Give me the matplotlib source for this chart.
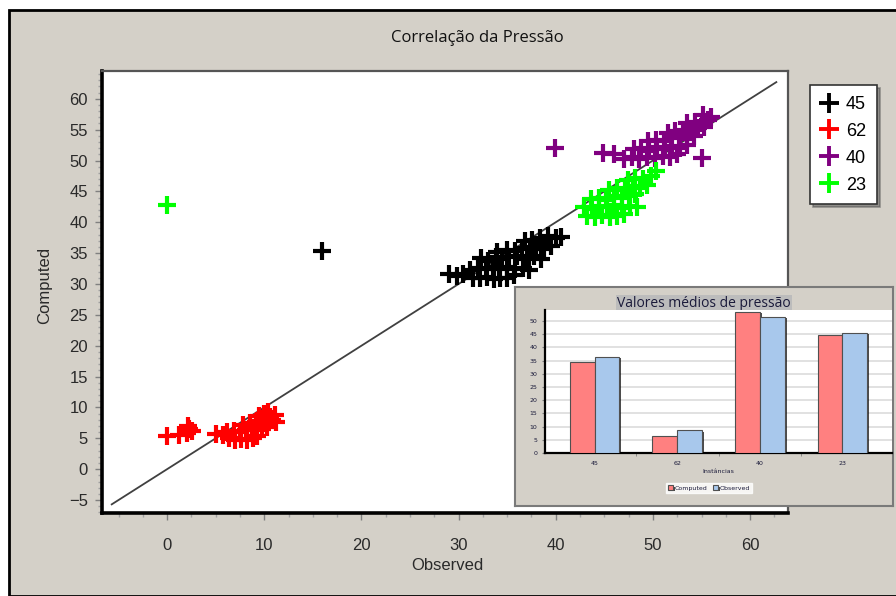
"""Correlação da Pressão: computed vs observed scatter with inset bar chart."""

import matplotlib

matplotlib.use("Agg")
import matplotlib.pyplot as plt
import matplotlib.patheffects as pe
import numpy as np
from matplotlib.lines import Line2D
from matplotlib.patches import Rectangle

# --- scatter data (observed, computed) per instance --------------------------
black_x = [29.0, 29.8, 30.5, 31.5, 32.2, 32.9, 33.6, 34.3, 35.0, 35.7,
           31.2, 32.0, 32.8, 33.5, 34.2, 35.0, 35.8, 36.6, 37.2,
           32.3, 33.0, 33.8, 34.5, 35.2, 36.0, 37.0, 37.8, 38.5,
           34.0, 35.0, 35.8, 36.5, 37.3, 38.0, 38.8, 39.5,
           36.8, 37.6, 38.4, 39.2, 40.0, 40.5, 15.9]
black_y = [31.6, 31.3, 31.6, 31.0, 30.9, 31.1, 30.8, 31.0, 30.9, 31.4,
           32.3, 32.6, 32.4, 32.8, 32.5, 32.7, 32.4, 32.6, 32.2,
           34.2, 33.8, 34.4, 34.0, 34.3, 34.6, 34.1, 34.5, 34.0,
           35.2, 35.5, 35.3, 35.8, 35.6, 36.0, 35.7, 36.2,
           36.9, 37.2, 37.5, 37.8, 37.4, 37.6, 35.3]

red_x = [0.0, 1.2, 2.0, 2.3, 2.6, 2.2,
         5.0, 5.8, 6.4, 7.0, 7.6, 8.2, 8.8, 9.3,
         6.2, 6.9, 7.5, 8.1, 8.7, 9.2, 9.8, 10.3,
         7.8, 8.5, 9.1, 9.7, 10.2, 10.8, 11.2,
         9.5, 10.0, 10.6, 11.1, 10.4]
red_y = [5.4, 5.6, 5.8, 6.5, 6.2, 7.0,
         5.7, 5.5, 5.0, 4.8, 4.9, 4.8, 5.0, 5.3,
         6.0, 6.2, 6.0, 6.4, 6.3, 6.6, 6.5, 6.9,
         7.2, 7.4, 7.6, 7.8, 7.5, 8.0, 7.7,
         8.6, 8.9, 8.5, 8.8, 9.3]

purple_x = [39.9, 55.0, 44.9, 46.0,
            47.0, 47.8, 48.6, 49.4, 50.2, 51.0, 51.8, 52.5,
            48.0, 48.8, 49.6, 50.4, 51.2, 52.0, 52.8, 53.5,
            49.5, 50.3, 51.1, 51.9, 52.7, 53.5, 54.2,
            51.5, 52.3, 53.1, 53.9, 54.6, 55.3,
            53.5, 54.3, 55.0, 55.7, 56.0, 55.2]
purple_y = [52.0, 50.4, 51.2, 51.0,
            50.3, 50.6, 50.2, 50.5, 50.4, 50.8, 50.6, 51.0,
            51.8, 52.0, 51.6, 52.2, 51.9, 52.3, 52.0, 52.5,
            53.2, 53.4, 53.1, 53.6, 53.8, 53.5, 54.0,
            54.5, 54.8, 55.0, 54.7, 55.2, 55.5,
            56.0, 56.3, 56.0, 56.6, 57.0, 57.3]

green_x = [0.0,
           43.2, 44.0, 44.8, 45.6, 46.3, 47.0,
           42.9, 43.7, 44.5, 45.3, 46.0, 46.8, 47.6, 48.4,
           43.6, 44.4, 45.2, 46.0, 46.8, 47.5, 48.2,
           45.5, 46.3, 47.1, 47.9, 48.7, 49.4,
           47.4, 48.2, 49.0, 49.8, 50.3]
green_y = [42.8,
           41.0, 40.9, 41.2, 40.8, 41.0, 41.3,
           42.5, 42.2, 42.6, 42.4, 42.8, 42.3, 42.6, 42.4,
           43.8, 44.0, 43.6, 44.2, 43.9, 44.3, 44.6,
           45.3, 45.6, 45.2, 45.8, 45.5, 46.0,
           46.8, 47.2, 47.0, 47.5, 48.3]

ref_line = [-5.7, 62.7]

# --- inset bar data ----------------------------------------------------------
instances = ["45", "62", "40", "23"]
computed_mean = [34.6, 6.5, 53.5, 44.7]
observed_mean = [36.5, 8.6, 51.6, 45.6]

BG = "#d4d0c8"
W, H = 896, 596


def fx(px):
    return px / W


def fy(py):
    return 1 - py / H


fig = plt.figure(figsize=(W / 100, H / 100), dpi=100, facecolor="white")
fig.patches.append(Rectangle((fx(9), 0), 1.0, fy(10), transform=fig.transFigure,
                             facecolor=BG, edgecolor="black", linewidth=2, zorder=-10))

ax = fig.add_axes([fx(102), fy(513), fx(788) - fx(102), fy(71) - fy(513)])
ax.set_facecolor("white")
ax.plot(ref_line, ref_line, color="#404040", linewidth=1.3, zorder=1)

series = [("45", black_x, black_y, "black"),
          ("62", red_x, red_y, "#ff0000"),
          ("40", purple_x, purple_y, "#800080"),
          ("23", green_x, green_y, "#00ff00")]
for name, xs, ys, color in series:
    ax.plot(xs, ys, linestyle="none", marker="+", markersize=13, markeredgewidth=3,
            color=color, zorder=2)

ax.set_xlim(-6.7, 63.9)
ax.set_ylim(-7.1, 64.5)
ax.set_xticks(np.arange(0, 61, 10))
ax.set_xticks(np.arange(-5, 63, 2.5), minor=True)
ax.set_yticks(np.arange(-5, 61, 5))
ax.set_yticks(np.arange(-7, 65, 1), minor=True)
ax.tick_params(which="major", length=5, width=1, color="#808080", labelsize=12,
               labelcolor="#2a2a2a")
ax.tick_params(axis="x", which="major", pad=13)
ax.tick_params(axis="y", which="major", pad=5)
ax.tick_params(which="minor", length=3, width=1, color="#a0a0a0")
for lab in ax.get_xticklabels() + ax.get_yticklabels():
    lab.set_fontfamily("Liberation Sans")
for side in ("left", "bottom"):
    ax.spines[side].set_linewidth(2.6)
    ax.spines[side].set_color("black")
for side in ("top", "right"):
    ax.spines[side].set_linewidth(1.6)
    ax.spines[side].set_color("#555555")

fig.text(fx(477), fy(38), "Correlação da Pressão", ha="center", va="center",
         fontsize=12, family="Open Sans", color="#111111")
fig.text(fx(45), fy(285), "Computed", ha="center", va="center", rotation=90,
         fontsize=12, family="Liberation Sans", color="#2a2a2a")
fig.text(fx(447), fy(565), "Observed", ha="center", va="center",
         fontsize=12, family="Liberation Sans", color="#2a2a2a")

handles = [Line2D([], [], linestyle="none", marker="+", markersize=14,
                  markeredgewidth=2.8, color=c) for _, _, _, c in series]
leg = fig.legend(handles, [s[0] for s in series], loc="upper left",
                 bbox_to_anchor=(fx(810), fy(85)), borderaxespad=0, frameon=True,
                 fancybox=False, shadow=True,
                 prop={"family": "Liberation Sans", "size": 13},
                 handlelength=0.9, handletextpad=0.5, labelspacing=0.55,
                 borderpad=0.6)
leg.get_frame().set_edgecolor("#333333")
leg.get_frame().set_linewidth(1.2)

# --- inset panel -------------------------------------------------------------
panel = fig.add_axes([fx(515), fy(506), fx(893) - fx(515), fy(287) - fy(506)], zorder=5)
panel.set_facecolor(BG)
panel.set_xticks([])
panel.set_yticks([])
for sp in panel.spines.values():
    sp.set_color("#7a7a7a")
    sp.set_linewidth(1.5)
panel.text(0.5, 0.925, "Valores médios de pressão", transform=panel.transAxes,
           ha="center", va="center", fontsize=10, family="Open Sans", color="#1a1a3a",
           bbox=dict(boxstyle="square,pad=0.05", facecolor="#bcbcbc", edgecolor="none"))

inset = fig.add_axes([fx(545), fy(453), fx(892) - fx(545), fy(310) - fy(453)], zorder=6)
inset.set_facecolor("white")
pos = np.arange(len(instances))
shadow = [pe.SimplePatchShadow(offset=(1.5, -1), shadow_rgbFace="black", alpha=0.7),
          pe.Normal()]
inset.bar(pos - 0.15, computed_mean, width=0.3, color="#ff8080", edgecolor="#505050",
          linewidth=0.8, label="Computed", path_effects=shadow, zorder=3)
inset.bar(pos + 0.15, observed_mean, width=0.3, color="#a8c8ec", edgecolor="#505050",
          linewidth=0.8, label="Observed", path_effects=shadow, zorder=3)
inset.set_xlim(-0.6, 3.6)
inset.set_ylim(0, 54.2)
inset.set_yticks(np.arange(0, 51, 5))
inset.yaxis.grid(True, color="#dcdcdc", linewidth=1.2)
inset.set_axisbelow(True)
inset.set_xticks(pos)
inset.set_xticklabels(instances)
inset.set_xticks([0.5, 1.5, 2.5], minor=True)
inset.tick_params(axis="x", which="major", length=0, labelsize=4.5, labelcolor="#1a1a3a",
                  pad=6)
inset.tick_params(axis="x", which="minor", length=2, color="#808080")
inset.tick_params(axis="y", length=2, labelsize=4.5, labelcolor="#1a1a3a", color="#808080")
inset.set_xlabel("Instâncias", fontsize=4.5, color="#1a1a3a", labelpad=2)
for side in ("top", "right"):
    inset.spines[side].set_visible(False)
inset.spines["left"].set_linewidth(1.6)
inset.spines["bottom"].set_linewidth(1.6)

ileg = inset.legend(loc="center", bbox_to_anchor=(fx(709), fy(488)),
                    bbox_transform=fig.transFigure, ncol=2, fontsize=4.5,
                    frameon=True, fancybox=False, handlelength=0.8, handleheight=0.8,
                    handletextpad=0.3, columnspacing=0.8, borderpad=0.4)
ileg.get_frame().set_edgecolor("white")
for t in ileg.get_texts():
    t.set_color("#1a1a3a")

fig.savefig("out.png", dpi=100, facecolor=fig.get_facecolor())
plt.close(fig)
